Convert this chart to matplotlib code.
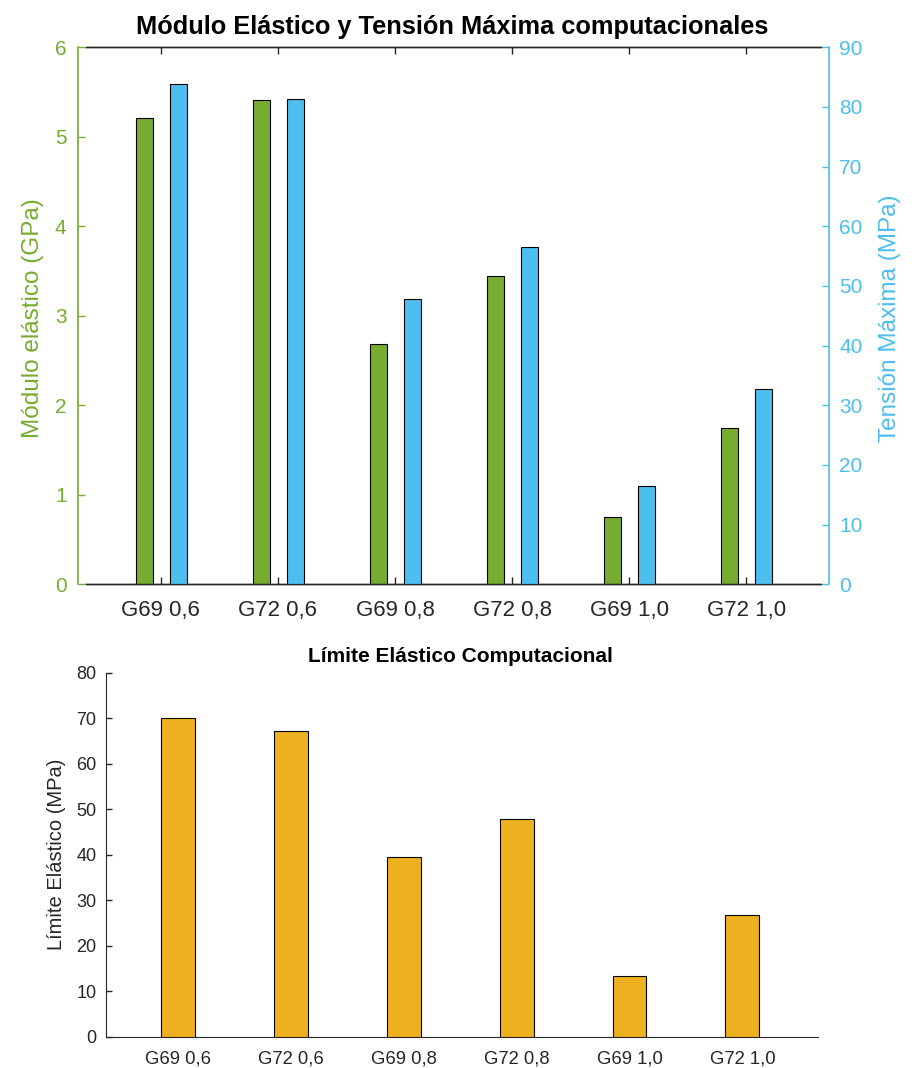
import matplotlib
matplotlib.use("Agg")
import matplotlib.pyplot as plt
import numpy as np

plt.rcParams['font.family'] = ['Liberation Sans', 'DejaVu Sans']

categories = ["G69 0,6", "G72 0,6", "G69 0,8", "G72 0,8", "G69 1,0", "G72 1,0"]
modulo_elastico_gpa = [5.21, 5.41, 2.69, 3.44, 0.75, 1.75]
tension_maxima_mpa = [83.9, 81.4, 47.8, 56.5, 16.5, 32.7]
limite_elastico_mpa = [70.1, 67.25, 39.4, 47.9, 13.4, 26.75]

GREEN = '#77AC30'
BLUE = '#4DBEEE'
YELLOW = '#EDB120'
DARK = '#262626'

W, H = 919, 1068
fig = plt.figure(figsize=(W / 100, H / 100), dpi=100)

def fx(px):
    return px / W

def fy(py):
    return 1 - py / H

x = np.arange(1, len(categories) + 1)

# ---------- top chart ----------
ax1 = fig.add_axes([fx(86), fy(584.3), fx(821) - fx(86), fy(47.3) - fy(584.3)])
ax2 = ax1.twinx()

ax1.bar(x - 0.143, modulo_elastico_gpa, width=0.145, color=GREEN,
        edgecolor='black', linewidth=0.8, zorder=3)
ax2.bar(x + 0.148, tension_maxima_mpa, width=0.145, color=BLUE,
        edgecolor='black', linewidth=0.8, zorder=3)

ax1.set_xlim(0.36, 6.64)
ax1.set_ylim(0, 6)
ax2.set_ylim(0, 90)
ax1.set_yticks(np.arange(0, 7, 1))
ax2.set_yticks(np.arange(0, 91, 10))
ax1.set_xticks(x)
ax1.set_xticklabels(categories)

for a in (ax1, ax2):
    a.spines['top'].set_color(DARK)
    a.spines['bottom'].set_color(DARK)
    a.spines['top'].set_linewidth(1.0)
    a.spines['bottom'].set_linewidth(1.0)
ax1.spines['left'].set_position(('outward', 6))
ax1.spines['left'].set_color(GREEN)
ax1.spines['left'].set_linewidth(1.2)
ax1.spines['right'].set_visible(False)
ax2.spines['right'].set_position(('outward', 6))
ax2.spines['right'].set_color(BLUE)
ax2.spines['right'].set_linewidth(1.2)
ax2.spines['left'].set_visible(False)

ax1.tick_params(axis='x', direction='in', top=True, length=5, width=1.0,
                color=DARK, labelsize=16, labelcolor=DARK, pad=11)
ax1.tick_params(axis='y', direction='in', length=5, width=1.0,
                color=GREEN, labelsize=15, labelcolor=GREEN, pad=8)
ax2.tick_params(axis='y', direction='in', length=5, width=1.0,
                color=BLUE, labelsize=15, labelcolor=BLUE, pad=7)

fig.text(fx(452.5), fy(27), "Módulo Elástico y Tensión Máxima computacionales",
         ha='center', va='center', fontsize=18.3, fontweight='bold', color='black')
fig.text(fx(33), fy(318.5), "Módulo elástico (GPa)", rotation=90,
         ha='center', va='center', fontsize=17.5, color=GREEN)
fig.text(fx(890), fy(318.5), "Tensión Máxima (MPa)", rotation=90,
         ha='center', va='center', fontsize=17.5, color=BLUE)

# ---------- bottom chart ----------
ax3 = fig.add_axes([fx(106), fy(1036.7), fx(818) - fx(106), fy(672.7) - fy(1036.7)])
ax3.bar(x, limite_elastico_mpa, width=0.3, color=YELLOW,
        edgecolor='black', linewidth=0.8, zorder=3)
ax3.set_xlim(0.36, 6.67)
ax3.set_ylim(0, 80)
ax3.set_yticks(np.arange(0, 81, 10))
ax3.set_xticks(x)
ax3.set_xticklabels(categories)
ax3.spines['top'].set_visible(False)
ax3.spines['right'].set_visible(False)
ax3.spines['left'].set_color(DARK)
ax3.spines['bottom'].set_color(DARK)
ax3.tick_params(axis='x', length=0, labelsize=13.3, labelcolor=DARK, pad=10)
ax3.tick_params(axis='y', direction='in', length=4, width=1.0, color=DARK,
                labelsize=13, labelcolor=DARK, pad=7)

fig.text(fx(460.5), fy(656), "Límite Elástico Computacional",
         ha='center', va='center', fontsize=15, fontweight='bold', color='black')
fig.text(fx(56), fy(854.7), "Límite Elástico (MPa)", rotation=90,
         ha='center', va='center', fontsize=14.5, color=DARK)

fig.savefig("out.png", dpi=100)
